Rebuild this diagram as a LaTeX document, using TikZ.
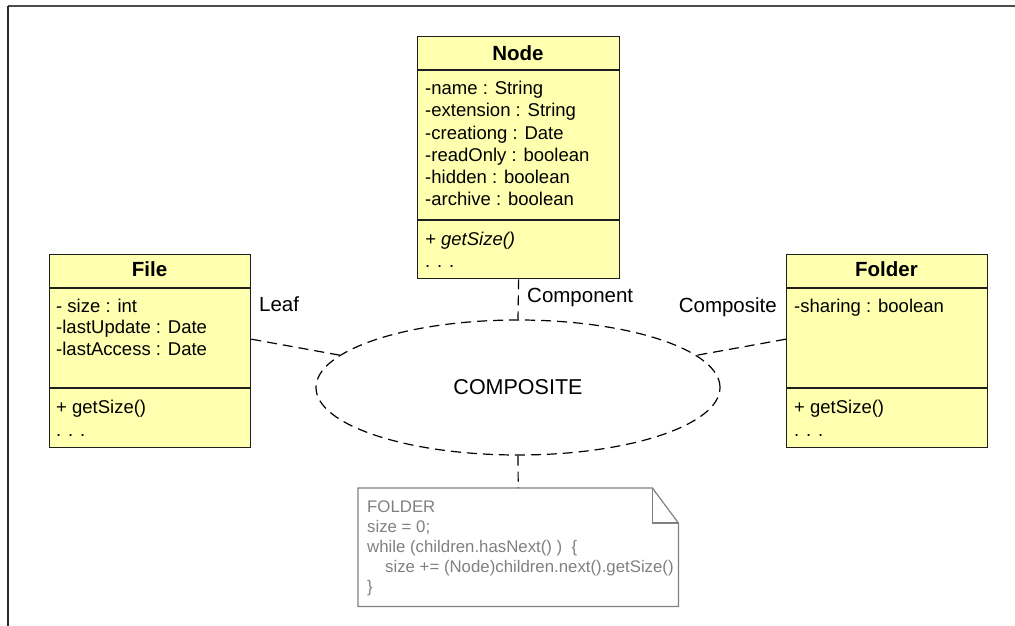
\documentclass[tikz,border=0pt]{standalone}
\usepackage{fontspec}
\setmainfont{Liberation Sans}
\usetikzlibrary{shapes.geometric}
\definecolor{clsfill}{RGB}{255,255,176}
\definecolor{clsline}{RGB}{30,30,30}
\definecolor{notegray}{RGB}{128,128,128}
\tikzset{
  clsbox/.style={draw=clsline, line width=1.3pt, fill=clsfill, inner sep=0pt, anchor=north west},
  sepline/.style={draw=clsline, line width=1.3pt},
  ttl/.style={anchor=base, inner sep=0pt, font=\fontsize{20.5}{24}\selectfont\bfseries},
  attr/.style={anchor=base west, inner sep=0pt, font=\fontsize{18.5}{22}\selectfont},
  lbl/.style={inner sep=0pt, font=\fontsize{20.5}{24}\selectfont},
  dsh/.style={line width=1.2pt, dash pattern=on 10pt off 6pt},
  ell/.style={ellipse, draw, line width=1.2pt, dash pattern=on 10pt off 6pt, inner sep=0pt, minimum width=404pt, minimum height=135pt, font=\fontsize{21.5}{26}\selectfont},
  notebox/.style={inner sep=0pt, anchor=north west, minimum width=320pt, minimum height=118pt},
  noteline/.style={draw=notegray, line width=1.2pt},
  notetxt/.style={anchor=base west, inner sep=0pt, text=notegray, font=\fontsize{16.8}{20}\selectfont},
  frameline/.style={line width=1.5pt, draw=black!85}
}
\begin{document}
\begin{tikzpicture}[x=1pt,y=-1pt]
\useasboundingbox (0,0) rectangle (1015,626);
% frame
\coordinate (ftl) at (8,6);
\coordinate (ftr) at (1015,6);
\coordinate (fbl) at (8,626);
\draw[frameline, draw=black!70] (ftl) -- (ftr);
\draw[frameline] (ftl) -- (fbl);

% Node class
\node[clsbox, minimum width=202pt, minimum height=242pt] (node) at (417,36) {};
\draw[sepline] (node.west |- 0,70) -- (node.east |- 0,70);
\draw[sepline] (node.west |- 0,220) -- (node.east |- 0,220);
\node[ttl] (nodet) at (518,60) {Node};
\node[attr] (n1) at (425,95) {-name : String};
\node[attr] (n2) at (425,117) {-extension : String};
\node[attr] (n3) at (425,139) {-creationg : Date};
\node[attr] (n4) at (425,161) {-readOnly : boolean};
\node[attr] (n5) at (425,183) {-hidden : boolean};
\node[attr] (n6) at (425,205) {-archive : boolean};
\node[attr] (n7) at (425,245) {\itshape + getSize()};
\node[attr] (n8) at (425,267) {. . .};

% File class
\node[clsbox, minimum width=201pt, minimum height=193pt] (file) at (49,254) {};
\draw[sepline] (file.west |- 0,288) -- (file.east |- 0,288);
\draw[sepline] (file.west |- 0,388) -- (file.east |- 0,388);
\node[ttl] (filet) at (149.5,276) {File};
\node[attr] (f1) at (56,312) {- size : int};
\node[attr] (f2) at (56,333) {-lastUpdate : Date};
\node[attr] (f3) at (56,355) {-lastAccess : Date};
\node[attr] (f4) at (56,413) {+ getSize()};
\node[attr] (f5) at (56,436) {. . .};

% Folder class
\node[clsbox, minimum width=201pt, minimum height=193pt] (folder) at (786,254) {};
\draw[sepline] (folder.west |- 0,288) -- (folder.east |- 0,288);
\draw[sepline] (folder.west |- 0,388) -- (folder.east |- 0,388);
\node[ttl] (foldert) at (886.5,276) {Folder};
\node[attr] (d1) at (794,312) {-sharing : boolean};
\node[attr] (d2) at (794,413) {+ getSize()};
\node[attr] (d3) at (794,436) {. . .};

% Collaboration ellipse
\node[ell] (comp) at (518,387.5) {COMPOSITE};

% connectors
\draw[dsh] (node.south) -- (comp.north);
\draw[dsh] ([yshift=12pt]file.east) -- (comp);
\draw[dsh] ([yshift=12pt]folder.west) -- (comp);

% role labels
\node[lbl, anchor=base west] (leaf) at (259,311) {Leaf};
\node[lbl, anchor=base west] (compo) at (527,302) {Component};
\node[lbl, anchor=base east] (compos) at (777,312) {Composite};

% note
\node[notebox] (note) at (358,488) {};
\draw[noteline] (note.north west) -- ([xshift=-26pt]note.north east) -- ([yshift=-35pt]note.north east) -- (note.south east) -- (note.south west) -- cycle;
\draw[noteline] ([xshift=-26pt]note.north east) |- ([yshift=-35pt]note.north east);
\node[notetxt] (t1) at (367,512) {FOLDER};
\node[notetxt] (t2) at (367,532) {size = 0;};
\node[notetxt] (t3) at (367,552) {while (children.hasNext() )\ \ \{};
\node[notetxt] (t4) at (385,572) {size += (Node)children.next().getSize()};
\node[notetxt] (t5) at (367,592) {\}};
\draw[dsh] (comp.south) -- (note.north);
\end{tikzpicture}
\end{document}
